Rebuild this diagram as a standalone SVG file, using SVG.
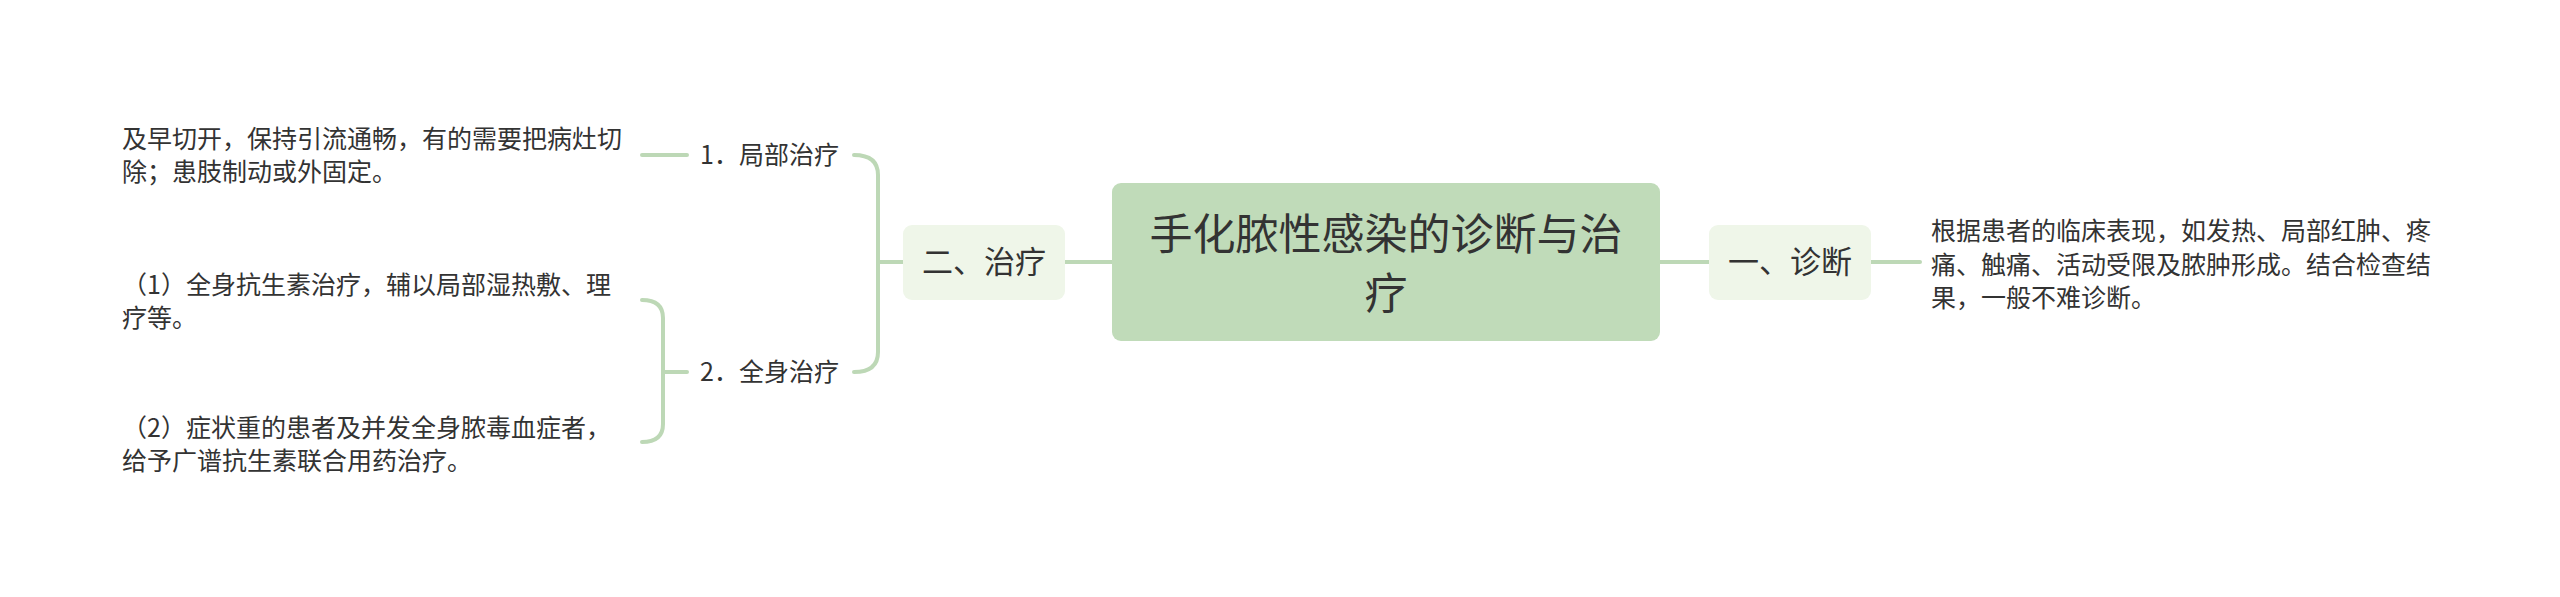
<svg xmlns="http://www.w3.org/2000/svg" width="2560" height="597" viewBox="0 0 2560 597">
<style>
text{font-family:"Noto Sans CJK SC","Noto Sans",sans-serif;fill:#333333}
.c{stroke:#bdd8b6;stroke-width:4;fill:none;stroke-linecap:round}
.root{fill:#c0dbb9}
.sub{fill:#eff6e9}
.t1{font-size:43px;text-anchor:middle}
.t2{font-size:31px;text-anchor:middle}
.t3{font-size:25px}
</style>
<rect width="2560" height="597" fill="#ffffff"/>
<g id="connectors">
<path class="c" d="M1660 262H1709"/>
<path class="c" d="M1871 262H1920"/>
<path class="c" d="M1112 262H1065"/>
<path class="c" d="M903 262H878"/>
<path class="c" d="M854 155Q878 155 878 175V352Q878 372 854 372"/>
<path class="c" d="M642 155H687"/>
<path class="c" d="M642 300Q663 300 663 318V424Q663 442 642 442"/>
<path class="c" d="M663 372H687"/>
</g>
<g id="root">
<rect class="root" x="1112" y="183" width="548" height="158" rx="9"/>
<text class="t1" x="1386" y="250">手化脓性感染的诊断与治</text>
<text class="t1" x="1386" y="309">疗</text>
</g>
<g id="diag">
<rect class="sub" x="1709" y="225" width="162" height="75" rx="9"/>
<text class="t2" x="1790" y="273">一、诊断</text>
</g>
<g id="diag-text">
<text class="t3" x="1931" y="240">根据患者的临床表现，如发热、局部红肿、疼</text>
<text class="t3" x="1931" y="274">痛、触痛、活动受限及脓肿形成。结合检查结</text>
<text class="t3" x="1931" y="307">果，一般不难诊断。</text>
</g>
<g id="treat">
<rect class="sub" x="903" y="225" width="162" height="75" rx="9"/>
<text class="t2" x="984" y="273">二、治疗</text>
</g>
<g id="local">
<text class="t3" x="700" y="164">1．局部治疗</text>
</g>
<g id="local-text">
<text class="t3" x="122" y="148">及早切开，保持引流通畅，有的需要把病灶切</text>
<text class="t3" x="122" y="181">除；患肢制动或外固定。</text>
</g>
<g id="systemic">
<text class="t3" x="700" y="381">2．全身治疗</text>
</g>
<g id="sys-1">
<text class="t3" x="122" y="294">（1）全身抗生素治疗，辅以局部湿热敷、理</text>
<text class="t3" x="122" y="327">疗等。</text>
</g>
<g id="sys-2">
<text class="t3" x="122" y="437">（2）症状重的患者及并发全身脓毒血症者，</text>
<text class="t3" x="122" y="470">给予广谱抗生素联合用药治疗。</text>
</g>
</svg>
